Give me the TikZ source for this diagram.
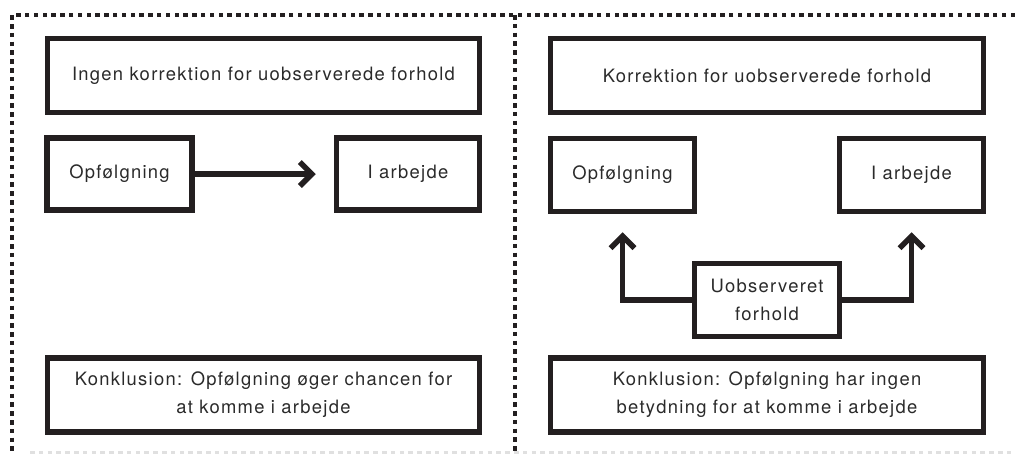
\documentclass[tikz,border=0pt]{standalone}
\usepackage{fontspec}
\setmainfont{TeX Gyre Heros}[LetterSpace=7]
\usetikzlibrary{arrows.meta}
\definecolor{ink}{HTML}{231F20}
\definecolor{txt}{HTML}{2A2A2A}
\tikzset{
  box/.style={draw=ink, line width=5.5pt, rectangle, inner sep=0pt, align=center,
    text=txt, font=\fontsize{18.4}{28}\selectfont},
  frameline/.style={draw=ink, line width=4.5pt, dash pattern=on 4.5pt off 4.3pt},
  faintline/.style={draw=black!12, line width=3pt, dash pattern=on 4.5pt off 4.3pt},
  conn/.style={draw=ink, line width=5.5pt, -{Straight Barb[length=12pt,width=24pt]}},
}
\begin{document}
\begin{tikzpicture}[x=1pt,y=-1pt]
\useasboundingbox (0,0) rectangle (1015,453);
% frame
\coordinate (tl) at (12,15);
\coordinate (tr) at (1015,15);
\coordinate (bl) at (12,453);
\coordinate (mt) at (515,15);
\coordinate (mb) at (515,453);
\coordinate (bfl) at (30,452);
\coordinate (bfr) at (1015,452);
\draw[faintline] (bfl) -- (bfr);
\draw[frameline] (tr) -- (tl) -- (bl);
\draw[frameline] (mt) -- (mb);
% left panel
\node[box, minimum width=432pt, minimum height=74pt] (A) at (263.5,75.5) {Ingen korrektion for uobserverede forhold};
\node[box, minimum width=145pt, minimum height=72pt] (B) at (119.5,174) {Opfølgning};
\node[box, minimum width=143pt, minimum height=72pt] (C) at (408,174) {I arbejde};
\node[box, minimum width=432pt, minimum height=74pt] (D) at (263.5,395) {Konklusion: Opfølgning øger chancen for\\at komme i arbejde};
\draw[conn, shorten >=18pt] (B) -- (C);
% right panel
\node[box, minimum width=433pt, minimum height=74pt] (E) at (767,75.5) {Korrektion for uobserverede forhold};
\node[box, minimum width=144pt, minimum height=73pt] (F) at (622.5,175) {Opfølgning};
\node[box, minimum width=144pt, minimum height=73pt] (G) at (911.5,175) {I arbejde};
\node[box, minimum width=145pt, minimum height=73pt] (H) at (767,300) {Uobserveret\\forhold};
\node[box, minimum width=433pt, minimum height=74pt] (I) at (767,395) {Konklusion: Opfølgning har ingen\\betydning for at komme i arbejde};
\draw[conn, shorten >=18pt] (H.west) -| (F);
\draw[conn, shorten >=18pt] (H.east) -| (G);
\end{tikzpicture}
\end{document}
